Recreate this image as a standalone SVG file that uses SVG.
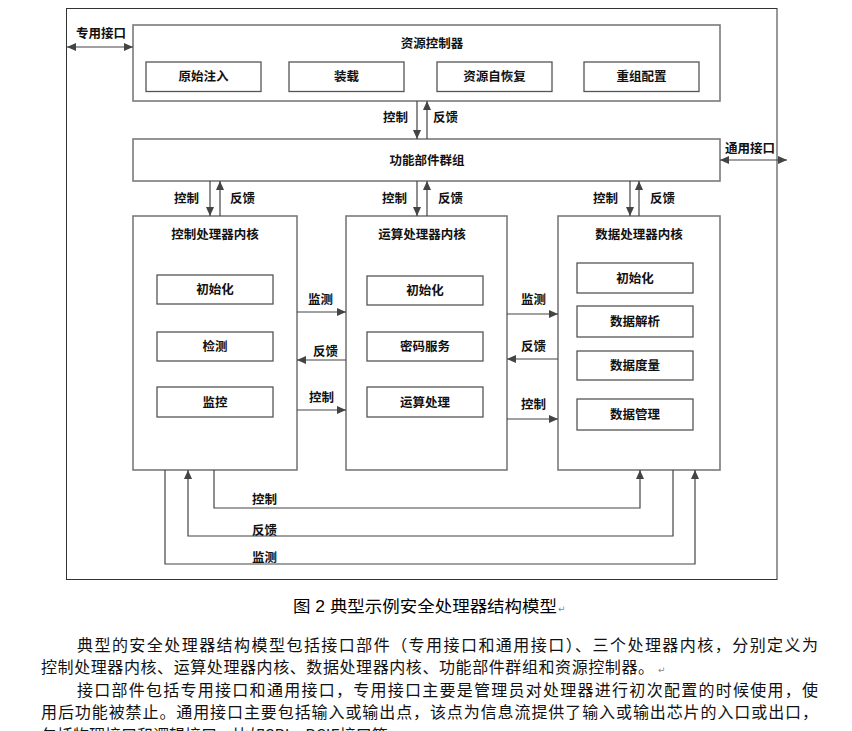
<svg xmlns="http://www.w3.org/2000/svg" width="852" height="731" viewBox="0 0 852 731">
<style>
.frame{fill:none;stroke:#333;stroke-width:1}
.box{fill:#fff;stroke:#7a7a7a;stroke-width:1.6}
.sub{fill:#fff;stroke:#555;stroke-width:1.3}
.lbl{font-family:"Noto Sans CJK SC","Noto Sans CJK TC",sans-serif;font-size:12.5px;font-weight:bold;fill:#111}
.mid{text-anchor:middle}
.con{fill:none;stroke:#444;stroke-width:1.2}
.cap{font-family:"Liberation Sans","Noto Sans CJK SC",sans-serif;font-size:16px;fill:#000}
.body{font-family:"Noto Sans CJK SC",sans-serif;font-size:16px;fill:#111}
.ret{font-family:"DejaVu Sans",sans-serif;font-size:9px;fill:#888}
</style>
<defs>
<marker id="ah" markerUnits="userSpaceOnUse" markerWidth="9" markerHeight="8" refX="9" refY="4" orient="auto-start-reverse">
<path d="M0,0 L9,4 L0,8 z" fill="#444"/>
</marker>
</defs>
<rect width="852" height="731" fill="#fff"/>
<rect class="frame" x="66.5" y="8.5" width="710.5" height="571"/>

<g id="resource-controller">
<rect class="box" x="133" y="25" width="587" height="76"/>
<text class="lbl mid" x="432" y="47.5">资源控制器</text>
</g>
<g id="rc-init"><rect class="sub" x="146" y="62" width="115" height="29.5"/><text class="lbl mid" x="203.5" y="81">原始注入</text></g>
<g id="rc-load"><rect class="sub" x="289" y="62" width="115" height="29.5"/><text class="lbl mid" x="346.5" y="81">装载</text></g>
<g id="rc-recover"><rect class="sub" x="437" y="62" width="115" height="29.5"/><text class="lbl mid" x="494.5" y="81">资源自恢复</text></g>
<g id="rc-reconf"><rect class="sub" x="584" y="62" width="115" height="29.5"/><text class="lbl mid" x="641.5" y="81">重组配置</text></g>

<g id="function-group">
<rect class="box" x="133" y="139" width="587" height="42"/>
<text class="lbl mid" x="427" y="164.5">功能部件群组</text>
</g>

<g id="ctrl-core">
<rect class="box" x="133" y="216" width="164" height="254"/>
<text class="lbl mid" x="215" y="238.5">控制处理器内核</text>
</g>
<g id="ctrl-init"><rect class="sub" x="157" y="275" width="116" height="29"/><text class="lbl mid" x="215" y="294">初始化</text></g>
<g id="ctrl-detect"><rect class="sub" x="157" y="332" width="116" height="29"/><text class="lbl mid" x="215" y="351">检测</text></g>
<g id="ctrl-monitor"><rect class="sub" x="157" y="387" width="116" height="30"/><text class="lbl mid" x="215" y="406.5">监控</text></g>

<g id="calc-core">
<rect class="box" x="346" y="216" width="161" height="254"/>
<text class="lbl mid" x="422" y="238.5">运算处理器内核</text>
</g>
<g id="calc-init"><rect class="sub" x="367" y="276" width="116" height="29"/><text class="lbl mid" x="425" y="295">初始化</text></g>
<g id="calc-crypto"><rect class="sub" x="367" y="332" width="116" height="29"/><text class="lbl mid" x="425" y="351">密码服务</text></g>
<g id="calc-proc"><rect class="sub" x="367" y="387" width="116" height="30"/><text class="lbl mid" x="425" y="406.5">运算处理</text></g>

<g id="data-core">
<rect class="box" x="558" y="216" width="162" height="254"/>
<text class="lbl mid" x="639" y="238.5">数据处理器内核</text>
</g>
<g id="data-init"><rect class="sub" x="577" y="263" width="116" height="30"/><text class="lbl mid" x="635" y="282.5">初始化</text></g>
<g id="data-parse"><rect class="sub" x="577" y="306" width="116" height="31"/><text class="lbl mid" x="635" y="326">数据解析</text></g>
<g id="data-measure"><rect class="sub" x="577" y="351" width="116" height="29"/><text class="lbl mid" x="635" y="370">数据度量</text></g>
<g id="data-manage"><rect class="sub" x="577" y="399" width="116" height="31"/><text class="lbl mid" x="635" y="419">数据管理</text></g>

<g id="connectors">
<line class="con" x1="67" y1="47" x2="133" y2="47" marker-start="url(#ah)" marker-end="url(#ah)"/>
<text class="lbl" x="76" y="38">专用接口</text>
<line class="con" x1="720" y1="160" x2="787" y2="160" marker-start="url(#ah)" marker-end="url(#ah)"/>
<text class="lbl" x="725" y="153">通用接口</text>

<line class="con" x1="417" y1="101" x2="417" y2="139" marker-end="url(#ah)"/>
<line class="con" x1="427" y1="139" x2="427" y2="101" marker-end="url(#ah)"/>
<text class="lbl" x="383" y="121.5">控制</text>
<text class="lbl" x="433" y="121.5">反馈</text>

<line class="con" x1="210" y1="181" x2="210" y2="216" marker-end="url(#ah)"/>
<line class="con" x1="220" y1="216" x2="220" y2="181" marker-end="url(#ah)"/>
<text class="lbl" x="174" y="202.5">控制</text>
<text class="lbl" x="230" y="202.5">反馈</text>

<line class="con" x1="417" y1="181" x2="417" y2="216" marker-end="url(#ah)"/>
<line class="con" x1="427" y1="216" x2="427" y2="181" marker-end="url(#ah)"/>
<text class="lbl" x="382" y="202.5">控制</text>
<text class="lbl" x="438" y="202.5">反馈</text>

<line class="con" x1="630" y1="181" x2="630" y2="216" marker-end="url(#ah)"/>
<line class="con" x1="639" y1="216" x2="639" y2="181" marker-end="url(#ah)"/>
<text class="lbl" x="593" y="202.5">控制</text>
<text class="lbl" x="650" y="202.5">反馈</text>

<line class="con" x1="297" y1="312" x2="346" y2="312" marker-end="url(#ah)"/>
<line class="con" x1="346" y1="360" x2="297" y2="360" marker-end="url(#ah)"/>
<line class="con" x1="297" y1="410" x2="346" y2="410" marker-end="url(#ah)"/>
<text class="lbl" x="308" y="303.5">监测</text>
<text class="lbl" x="313" y="355.5">反馈</text>
<text class="lbl" x="309" y="401.5">控制</text>

<line class="con" x1="507" y1="314" x2="558" y2="314" marker-end="url(#ah)"/>
<line class="con" x1="558" y1="359" x2="507" y2="359" marker-end="url(#ah)"/>
<line class="con" x1="507" y1="419" x2="558" y2="419" marker-end="url(#ah)"/>
<text class="lbl" x="521" y="303.5">监测</text>
<text class="lbl" x="521" y="350.5">反馈</text>
<text class="lbl" x="521" y="408.5">控制</text>

<polyline class="con" points="214,470 214,508 640,508 640,470" marker-end="url(#ah)"/>
<polyline class="con" points="673,470 673,536 188,536 188,470" marker-end="url(#ah)"/>
<polyline class="con" points="165,470 165,564 695,564 695,470" marker-end="url(#ah)"/>
<text class="lbl" x="252" y="503.5">控制</text>
<text class="lbl" x="252" y="534.5">反馈</text>
<text class="lbl" x="252" y="561.5">监测</text>
</g>

<text class="cap" x="293" y="612" textLength="264" lengthAdjust="spacingAndGlyphs">图 2 典型示例安全处理器结构模型</text>
<text class="ret" x="558" y="612">↵</text>

<text class="body" x="77" y="651" textLength="741" lengthAdjust="spacing">典型的安全处理器结构模型包括接口部件（专用接口和通用接口）、三个处理器内核，分别定义为</text>
<text class="body" x="41" y="673" textLength="613" lengthAdjust="spacing">控制处理器内核、运算处理器内核、数据处理器内核、功能部件群组和资源控制器。</text>
<text class="ret" x="658" y="673">↵</text>
<text class="body" x="77" y="696" textLength="741" lengthAdjust="spacing">接口部件包括专用接口和通用接口，专用接口主要是管理员对处理器进行初次配置的时候使用，使</text>
<text class="body" x="41" y="718" textLength="777" lengthAdjust="spacing">用后功能被禁止。通用接口主要包括输入或输出点，该点为信息流提供了输入或输出芯片的入口或出口，</text>
<text class="body" x="41" y="741">包括物理接口和逻辑接口，比如SPI、PCIE接口等。</text>
</svg>
